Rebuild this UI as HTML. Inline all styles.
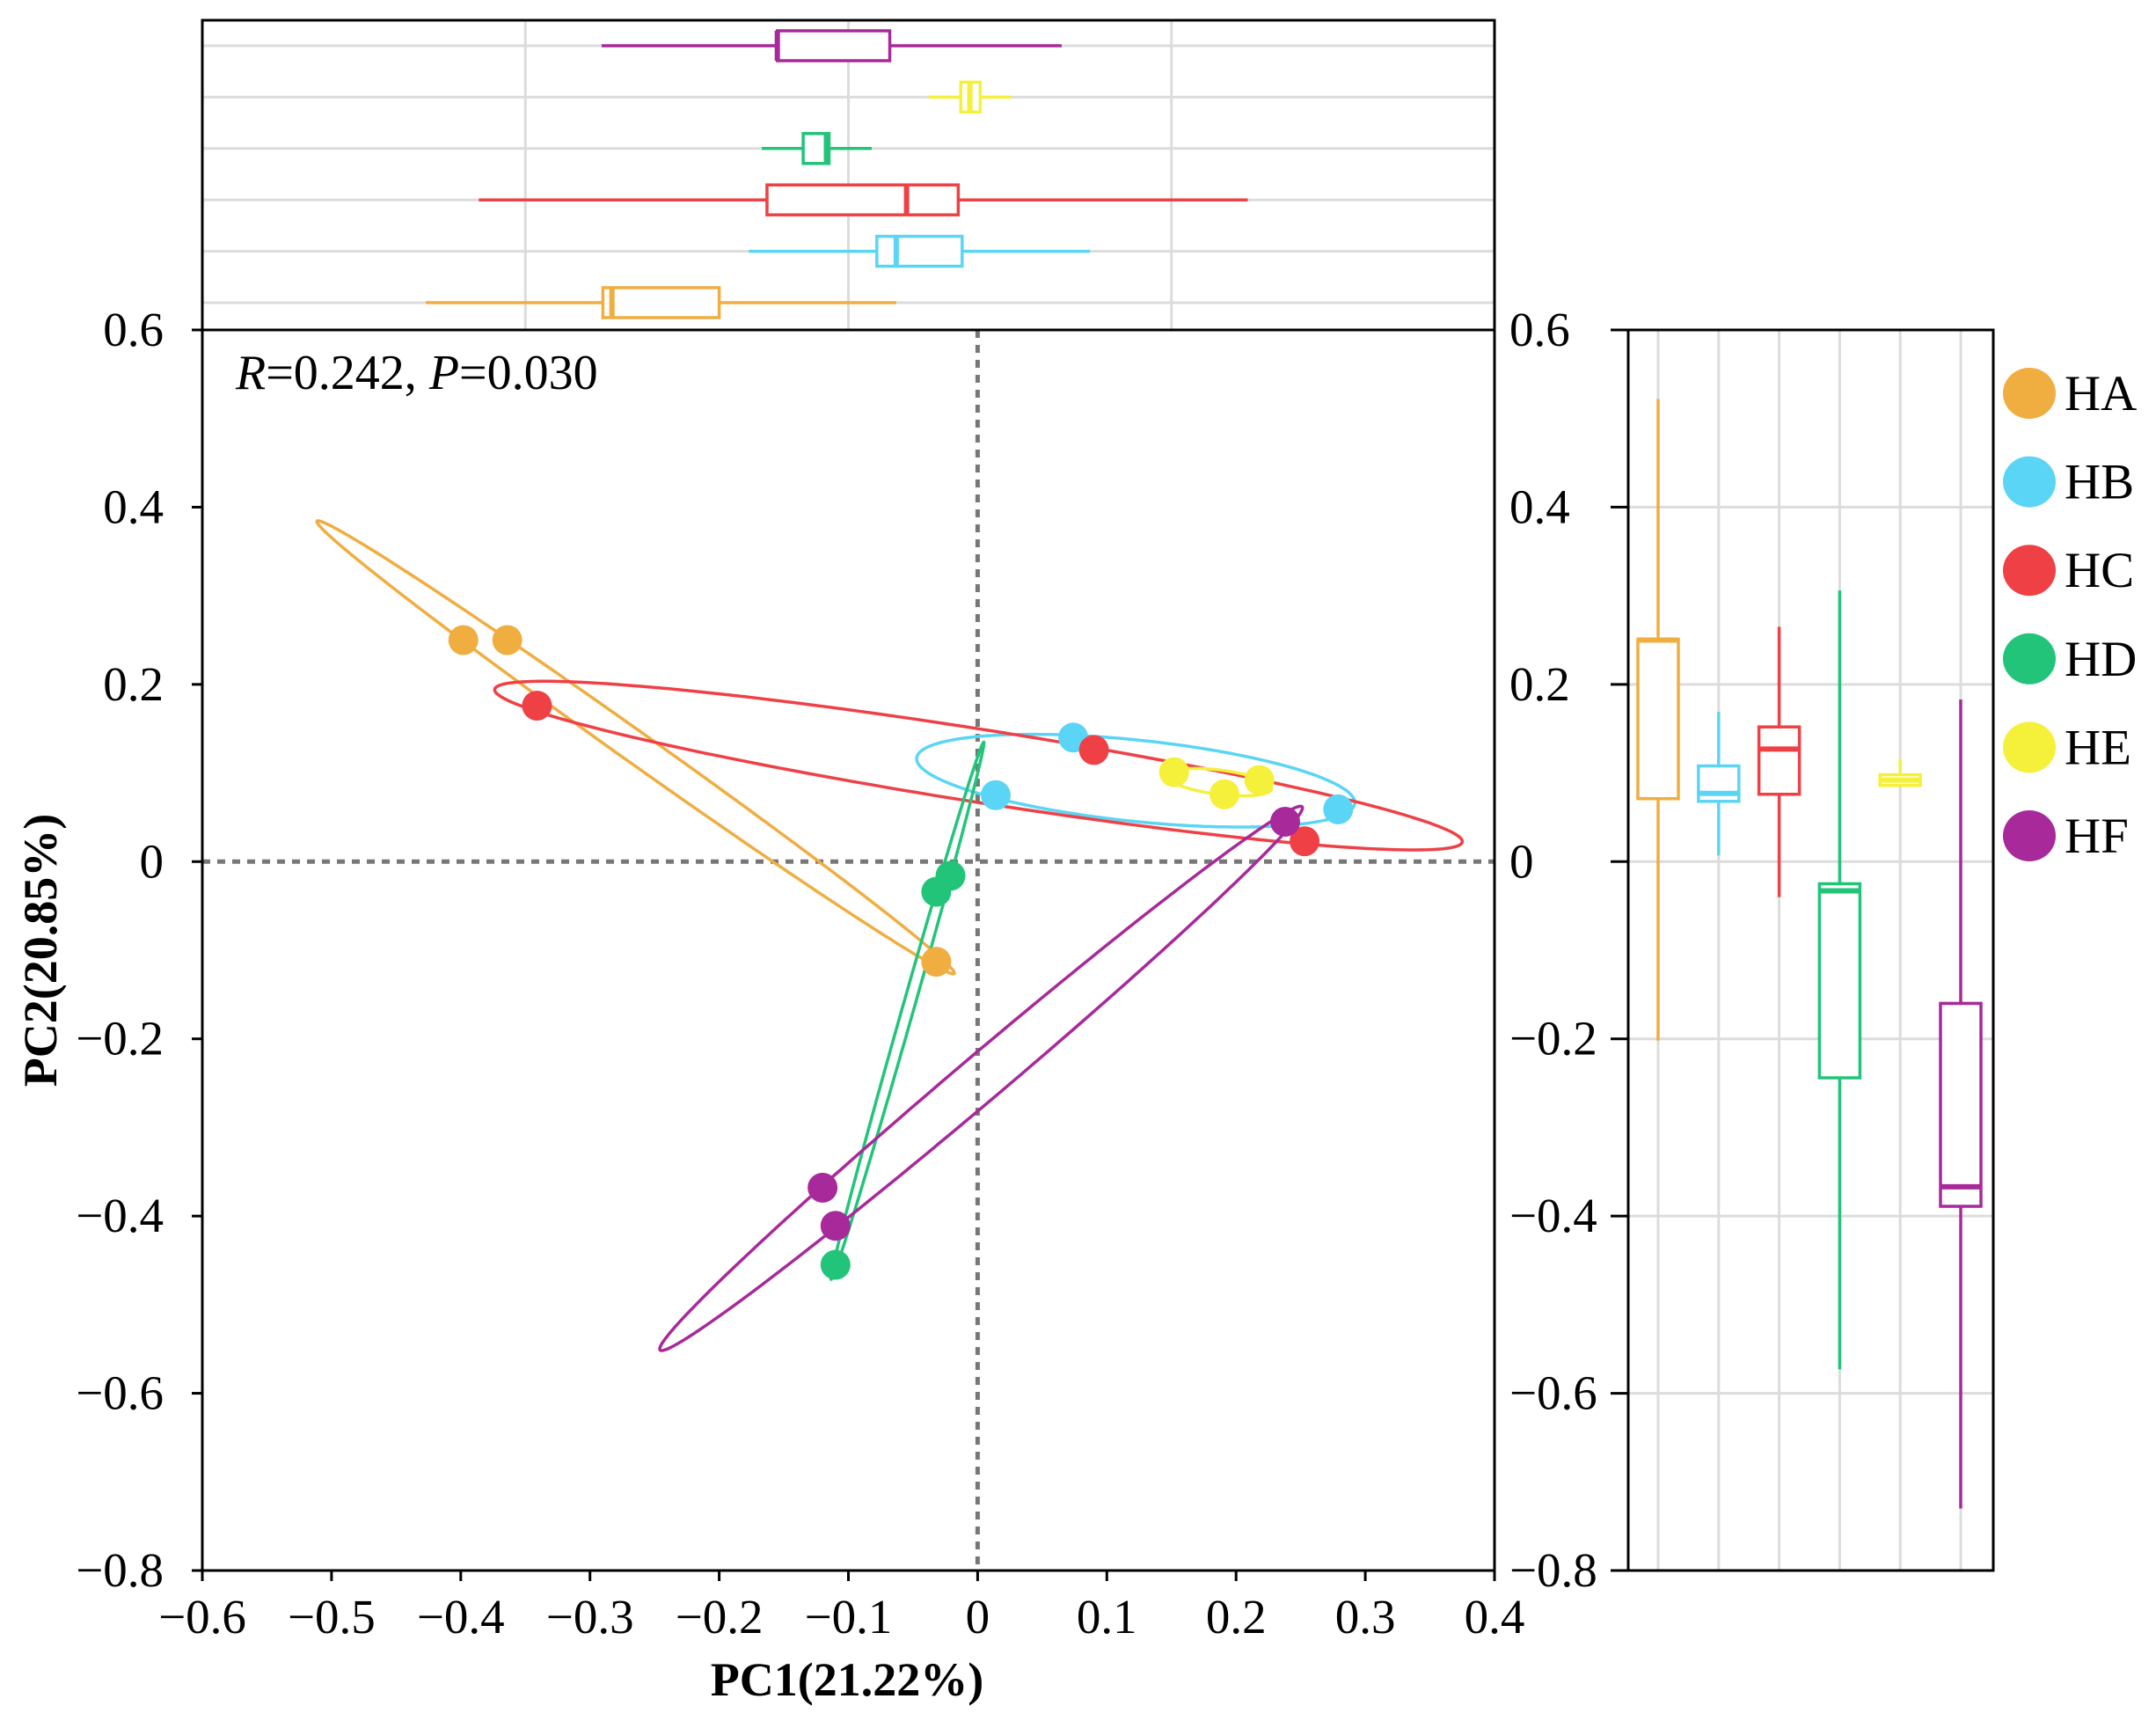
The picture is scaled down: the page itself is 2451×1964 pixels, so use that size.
<!DOCTYPE html>
<html><head><meta charset="utf-8"><style>
body{margin:0;background:#fff}
svg{display:block;font-family:"Liberation Serif",serif}
</style></head><body>
<svg id="c" width="2451" height="1964" viewBox="0 0 2451 1964" xmlns="http://www.w3.org/2000/svg"></svg>
<script>
const groups=["HA","HB","HC","HD","HE","HF"];
const colors=["#f0ad40","#5bd5f5","#ef4046","#22c47a","#f5f03a","#a8299a"];
const ptsX=[[-0.398,-0.364,-0.032],[0.074,0.014,0.279],[-0.341,0.09,0.253],[-0.021,-0.032,-0.110],[0.152,0.191,0.218],[0.238,-0.120,-0.110]];
const ptsY=[[0.25,0.25,-0.113],[0.140,0.075,0.059],[0.176,0.126,0.023],[-0.016,-0.034,-0.455],[0.101,0.076,0.092],[0.045,-0.368,-0.411]];
// top boxplots (PC1): whiskerLo, q1, median, q3, whiskerHi
const topStats=[[-0.427,-0.290,-0.283,-0.200,-0.063],[-0.177,-0.078,-0.063,-0.012,0.087],[-0.386,-0.163,-0.055,-0.015,0.209],[-0.167,-0.135,-0.117,-0.115,-0.082],[-0.038,-0.013,-0.006,0.002,0.026],[-0.291,-0.155,-0.155,-0.068,0.065]];
// right boxplots (PC2)
const rightStats=[[-0.202,0.071,0.25,0.251,0.522],[0.007,0.068,0.077,0.108,0.169],[-0.040,0.076,0.127,0.152,0.265],[-0.573,-0.244,-0.033,-0.025,0.306],[0.088,0.086,0.092,0.098,0.116],[-0.730,-0.389,-0.367,-0.16,0.183]];
const xTicks=[-0.6,-0.5,-0.4,-0.3,-0.2,-0.1,0,0.1,0.2,0.3,0.4];
const yTicks=[0.6,0.4,0.2,0,-0.2,-0.4,-0.6,-0.8];
const topGrid=[-0.35,-0.1,0.15];

const L=230,R=1699,T=375,B=1785,TT=23,RL=1851,RR=2266;
const sx=v=>L+(v+0.6)/1.0*(R-L);
const sy=v=>T+(0.6-v)/1.4*(B-T);
const topRowY=i=>344-i*58.4;
const rightColX=i=>1885+i*68.8;
const svg=document.getElementById('c');
const NS="http://www.w3.org/2000/svg";
function el(tag,a,p){const e=document.createElementNS(NS,tag);for(const k in a)e.setAttribute(k,a[k]);(p||svg).appendChild(e);return e;}
function txt(s,a){const e=el('text',a);e.textContent=s;return e;}
function fmt(v){return v===0?"0":(v<0?"\u2212":"")+Math.abs(v).toFixed(1);}

for(let i=0;i<6;i++){const g=el('line',{x1:L,x2:R,y1:topRowY(i),y2:topRowY(i),stroke:"#dcdcdc","stroke-width":3});
}
topGrid.forEach(v=>{const g=el('line',{x1:sx(v),x2:sx(v),y1:TT,y2:T,stroke:"#dcdcdc","stroke-width":3});
});
yTicks.slice(1,7).forEach(v=>{const g=el('line',{x1:RL,x2:RR,y1:sy(v),y2:sy(v),stroke:"#dcdcdc","stroke-width":3});
});
for(let i=0;i<6;i++){const g=el('line',{x1:rightColX(i),x2:rightColX(i),y1:T,y2:B,stroke:"#dcdcdc","stroke-width":3});
}

topStats.forEach((s,i)=>{const y=topRowY(i),c=colors[i],h=17;
const g=el('g',{});
el('line',{x1:sx(s[0]),x2:sx(s[1]),y1:y,y2:y,stroke:c,"stroke-width":3.5},g);
el('line',{x1:sx(s[3]),x2:sx(s[4]),y1:y,y2:y,stroke:c,"stroke-width":3.5},g);
el('rect',{x:sx(s[1]),y:y-h,width:sx(s[3])-sx(s[1]),height:2*h,fill:"#fff",stroke:c,"stroke-width":3.5},g);
el('line',{x1:sx(s[2]),x2:sx(s[2]),y1:y-h,y2:y+h,stroke:c,"stroke-width":6},g);});
rightStats.forEach((s,i)=>{const x=rightColX(i),c=colors[i],w=23;
const g=el('g',{});
el('line',{x1:x,x2:x,y1:sy(s[0]),y2:sy(s[4]),stroke:c,"stroke-width":3.5},g);
el('rect',{x:x-w,y:sy(s[3]),width:2*w,height:sy(s[1])-sy(s[3]),fill:"#fff",stroke:c,"stroke-width":3.5},g);
el('line',{x1:x-w,x2:x+w,y1:sy(s[2]),y2:sy(s[2]),stroke:c,"stroke-width":6},g);});

let z=el('line',{x1:L,x2:R,y1:sy(0),y2:sy(0),stroke:"#777","stroke-width":5,"stroke-dasharray":"9,8"});

z=el('line',{x1:sx(0),x2:sx(0),y1:T,y2:B,stroke:"#777","stroke-width":5,"stroke-dasharray":"9,8"});


const K=1.22;
groups.forEach((gname,i)=>{const xs=ptsX[i],ys=ptsY[i],n=xs.length;
const mx=xs.reduce((a,b)=>a+b)/n,my=ys.reduce((a,b)=>a+b)/n;
let vxx=0,vyy=0,vxy=0;for(let j=0;j<n;j++){vxx+=(xs[j]-mx)**2;vyy+=(ys[j]-my)**2;vxy+=(xs[j]-mx)*(ys[j]-my);}
vxx/=n-1;vyy/=n-1;vxy/=n-1;
const a=Math.sqrt(vxx),b=vxy/a,cc=Math.sqrt(Math.max(vyy-b*b,1e-8));
let d="";for(let t=0;t<=200;t++){const th=t/200*2*Math.PI,u=Math.cos(th),v=Math.sin(th);
const px=mx+K*a*u,py=my+K*(b*u+cc*v);d+=(t?"L":"M")+sx(px).toFixed(1)+","+sy(py).toFixed(1);}
const e=el('path',{d:d+"Z",fill:"none",stroke:colors[i],"stroke-width":3.5});
});
groups.forEach((gname,i)=>{ptsX[i].forEach((x,j)=>{const p=el('circle',{cx:sx(x),cy:sy(ptsY[i][j]),r:17,fill:colors[i]});
});});

const f1=el('path',{d:`M${L},${T}V${TT}H${R}V${T}M${L},${T}H${R}M${L},${T}V${B}H${R}V${T}`,fill:"none",stroke:"#000","stroke-width":3});

const f2=el('rect',{x:RL,y:T,width:RR-RL,height:B-T,fill:"none",stroke:"#000","stroke-width":3});


xTicks.forEach(v=>{const t=el('line',{x1:sx(v),x2:sx(v),y1:B,y2:B+12,stroke:"#000","stroke-width":3});

const l=txt(fmt(v),{x:sx(v),y:1856,"font-size":55,"text-anchor":"middle"});
});
yTicks.forEach(v=>{let t=el('line',{x1:L-12,x2:L,y1:sy(v),y2:sy(v),stroke:"#000","stroke-width":3});

let l=txt(fmt(v),{x:L-44,y:sy(v)+18,"font-size":55,"text-anchor":"end"});

t=el('line',{x1:RL-20,x2:RL,y1:sy(v),y2:sy(v),stroke:"#000","stroke-width":3});

l=txt(fmt(v),{x:1716,y:sy(v)+18,"font-size":55,"text-anchor":"start"});
});

let tt=txt("PC1(21.22%)",{x:963,y:1927,"font-size":54,"font-weight":"bold","text-anchor":"middle"});

tt=txt("PC2(20.85%)",{x:0,y:0,"font-size":54,"font-weight":"bold","text-anchor":"middle",transform:"translate(64,1080) rotate(-90)"});

const st=el('text',{x:268,y:442,"font-size":56});

st.innerHTML='<tspan font-style="italic">R</tspan>=0.242, <tspan font-style="italic">P</tspan>=0.030';

groups.forEach((gname,i)=>{const y=447+i*100.6;const g=el('g',{});

el('ellipse',{cx:2307,cy:y,rx:30,ry:29,fill:colors[i]},g);
const t=el('text',{x:2347,y:y+19,"font-size":57},g);t.textContent=gname;});
</script>
</body></html>
